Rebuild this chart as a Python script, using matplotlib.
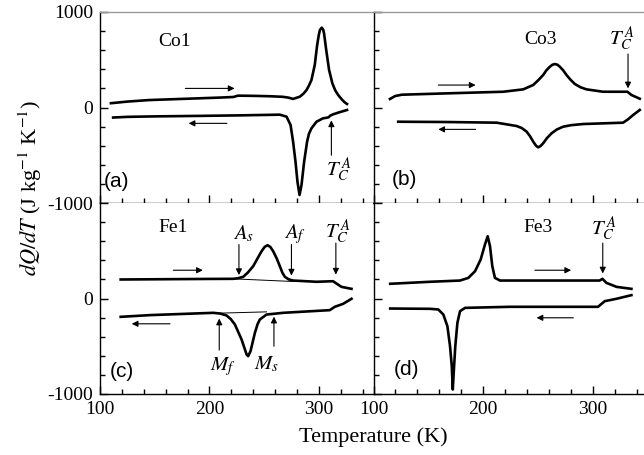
import numpy as np
import matplotlib
matplotlib.use("Agg")
import matplotlib.pyplot as plt
from matplotlib.ticker import MultipleLocator

plt.rcParams['font.family'] = ['Liberation Serif', 'DejaVu Serif']
plt.rcParams['mathtext.fontset'] = 'stix'
plt.rcParams['axes.unicode_minus'] = False

# ---- data (T in K, dQ/dT in J kg-1 K-1) ----
# (a) Co1
co1_heat_T = [110, 125, 145, 170, 190, 210, 222, 226, 240, 255, 267, 272, 276.5, 282.6, 286, 288.8,
              291, 293.3, 296.3, 298.5, 300, 301, 302.7, 304, 304.8, 307, 309.4, 312.4, 315,
              317.7, 321, 323.7, 325.8]
co1_heat_Q = [45, 62, 78, 88, 96, 104, 110, 124, 122, 118, 112, 104, 90, 113, 145, 183,
              230, 288, 445, 654, 760, 811, 836, 815, 776, 584, 393, 253, 180,
              131, 85, 54, 37]
co1_cool_T = [112, 125, 150, 190, 230, 264.4, 270.5, 274.2, 276.5, 278.7, 280.5, 282.4, 284.2,
              286.6, 289.3, 291, 293.3, 297.9, 303.9, 307, 309, 310.5, 313, 317.7, 325.8]
co1_cool_Q = [-105, -98, -93, -88, -82, -75, -96, -183, -358, -567, -777, -916, -811,
              -567, -358, -275, -218, -149, -113, -108, -102, -85, -72, -54, -26]

# (b) Co3
co3_heat_T = [115, 119.7, 125.8, 166.7, 218.2, 236.4, 245.5, 250, 254.5, 257.5, 260.6, 263,
              265.2, 267.5, 269.7, 272.7, 275.8, 279.5, 283.4, 288.5, 294, 309, 331.3, 334.9, 342.5]
co3_heat_Q = [89, 120, 134, 148, 165, 190, 236, 285, 340, 390, 427, 448,
              455, 448, 427, 390, 340, 290, 246, 212, 190, 165, 165, 131, 92]
co3_cool_T = [122.5, 166.7, 212.2, 230.4, 235, 239.5, 242.5, 245.5, 248, 250, 252, 254.5, 258,
              262.2, 267, 272.7, 280, 290.9, 327.3, 331.8, 336.4, 342.5]
co3_cool_Q = [-149, -152, -159, -194, -215, -253, -300, -358, -400, -417, -405, -375, -320,
              -270, -230, -201, -185, -173, -159, -124, -79, -26]

# (c) Fe1
fe1_heat_T = [118.9, 160, 200, 221.7, 226, 230.9, 235, 240, 244, 247.7, 250.5, 253.1, 255.7,
              258.3, 261.5, 264.4, 266.7, 269, 272.5, 276.6, 297.9, 313, 316.1, 320.7, 329.9]
fe1_heat_Q = [199, 202, 205, 206, 212, 227, 270, 338, 420, 495, 540, 558, 540,
              495, 420, 338, 270, 227, 200, 188, 175, 181, 157, 122, 101]
fe1_cool_T = [118.9, 145.7, 203.5, 210, 215.7, 219.5, 223.3, 229.4, 234, 235.4, 237.6, 241.6,
              244, 246.1, 252.2, 267.4, 310, 314.6, 322.2, 329.9]
fe1_cool_Q = [-192, -174, -150, -158, -178, -215, -272, -429, -586, -604, -551, -359,
              -270, -220, -168, -150, -122, -87, -56, -3]
fe1_heat_base_T = [221.7, 276.6]
fe1_heat_base_Q = [206, 178]
fe1_cool_base_T = [203.5, 252.2]
fe1_cool_base_Q = [-155, -140]

# (d) Fe3
fe3_heat_T = [115.2, 151.5, 178.8, 186.4, 192.5, 197.6, 201.5, 204, 206.1, 208.2, 210.6,
              215.2, 242.5, 306, 308.5, 312.1, 321.3, 334.9]
fe3_heat_Q = [154, 175, 188, 216, 286, 408, 565, 652, 548, 338, 216,
              188, 188, 188, 206, 164, 122, 101]
fe3_cool_T = [115.2, 151.5, 159, 163.6, 167.3, 169.7, 171.3, 172.2, 173.4, 174.5, 176.4,
              178.8, 183.4, 224, 304.5, 310.6, 321.3, 334.9]
fe3_cool_Q = [-105, -108, -115, -168, -290, -499, -709, -953, -709, -499, -255,
              -133, -98, -87, -87, -28, -3, 35]

W, H = 644, 455
fig = plt.figure(figsize=(W / 100, H / 100), dpi=100)


def px_box(x0, y0, x1, y1):
    return [x0 / W, 1 - y1 / H, (x1 - x0) / W, (y1 - y0) / H]


ax_a = fig.add_axes(px_box(100, 12, 373.5, 203))
ax_b = fig.add_axes(px_box(373.5, 12, 648, 203))
ax_c = fig.add_axes(px_box(100, 203, 373.5, 394))
ax_d = fig.add_axes(px_box(373.5, 203, 648, 394))

curves = {
    ax_a: [(co1_heat_T, co1_heat_Q), (co1_cool_T, co1_cool_Q)],
    ax_b: [(co3_heat_T, co3_heat_Q), (co3_cool_T, co3_cool_Q)],
    ax_c: [(fe1_heat_T, fe1_heat_Q), (fe1_cool_T, fe1_cool_Q)],
    ax_d: [(fe3_heat_T, fe3_heat_Q), (fe3_cool_T, fe3_cool_Q)],
}

for ax, cc in curves.items():
    for t, q in cc:
        ax.plot(t, q, color='black', lw=1.9, solid_joinstyle='round')
    ax.set_xlim(100, 350)
    ax.set_ylim(-1000, 1000)
    ax.xaxis.set_major_locator(MultipleLocator(100))
    ax.xaxis.set_minor_locator(MultipleLocator(20))
    ax.yaxis.set_major_locator(MultipleLocator(1000))
    ax.yaxis.set_minor_locator(MultipleLocator(200))
    ax.tick_params(which='both', direction='in', top=False, right=False,
                   labelsize=14, width=1.0)
    ax.tick_params(which='major', length=6, pad=5)
    ax.tick_params(which='minor', length=3.5)
    for s in ax.spines.values():
        s.set_linewidth(1.0)
    ax.spines['right'].set_visible(False)

ax_c.plot(fe1_heat_base_T, fe1_heat_base_Q, color='black', lw=0.7)
ax_c.plot(fe1_cool_base_T, fe1_cool_base_Q, color='black', lw=0.7)

for ax in (ax_a, ax_b):
    ax.spines['top'].set_color('#9a9a9a')
    ax.tick_params(labelbottom=False)
for ax in (ax_c, ax_d):
    ax.spines['top'].set_visible(False)
for ax in (ax_b, ax_d):
    ax.tick_params(labelleft=False)

ax_a.set_yticks([-1000, 0, 1000])
ax_a.set_yticklabels(['-1000', '0', '1000'])
ax_c.set_yticks([-1000, 0, 1000])
ax_c.set_yticklabels(['-1000', '0', ''])
for ax in (ax_c, ax_d):
    ax.set_xticks([100, 200, 300])
    ax.set_xticklabels(['100', '200', '300'])

arr = dict(arrowstyle='-|>', color='black', lw=0.8, mutation_scale=9,
           shrinkA=0, shrinkB=0)


def arrow(ax, x0, y0, x1, y1):
    ax.annotate('', xy=(x1, y1), xytext=(x0, y0), arrowprops=arr)


tc = r'$T_C^{\,A}$'

# (a)
arrow(ax_a, 178, 200, 223, 200)
arrow(ax_a, 216, -166, 181, -166)
arrow(ax_a, 311.5, -500, 311.5, -135)
ax_a.text(153, 686, 'Co1', fontsize=14, va='center')
ax_a.text(318, -650, tc, fontsize=15, ha='center', va='center')
ax_a.text(103, -780, '(a)', fontsize=15, va='center', family='Liberation Sans')

# (b)
arrow(ax_b, 159, 235, 193, 235)
arrow(ax_b, 193, -229, 159, -229)
arrow(ax_b, 331.8, 560, 331.8, 200)
ax_b.text(252, 707, 'Co3', fontsize=14, ha='center', va='center')
ax_b.text(326, 720, tc, fontsize=15, ha='center', va='center')
ax_b.text(117, -759, '(b)', fontsize=15, va='center', family='Liberation Sans')

# (c)
arrow(ax_c, 167, 296, 194, 296)
arrow(ax_c, 164, -265, 129, -265)
arrow(ax_c, 227, 565, 227, 245)
arrow(ax_c, 275, 565, 275, 240)
arrow(ax_c, 315.6, 580, 315.6, 250)
arrow(ax_c, 209, -540, 209, -210)
arrow(ax_c, 259, -500, 259, -190)
ax_c.text(153, 740, 'Fe1', fontsize=14, va='center')
ax_c.text(231, 675, r'$A_s$', fontsize=15, ha='center', va='center')
ax_c.text(278, 670, r'$A_f$', fontsize=15, ha='center', va='center')
ax_c.text(317, 705, tc, fontsize=15, ha='center', va='center')
ax_c.text(212, -712, r'$M_f$', fontsize=15, ha='center', va='center')
ax_c.text(252, -690, r'$M_s$', fontsize=15, ha='center', va='center')
ax_c.text(109, -761, '(c)', fontsize=15, va='center', family='Liberation Sans')

# (d)
arrow(ax_d, 247, 296, 280, 296)
arrow(ax_d, 282, -202, 248.5, -202)
arrow(ax_d, 308.8, 580, 308.8, 262)
ax_d.text(250, 740, 'Fe3', fontsize=14, ha='center', va='center')
ax_d.text(310, 733, tc, fontsize=15, ha='center', va='center')
ax_d.text(118, -743, '(d)', fontsize=15, va='center', family='Liberation Sans')

fig.text(373 / W, 1 - 437 / H, 'Temperature (K)', fontsize=16, ha='center', va='center')
fig.text(30 / W, 1 - 188 / H, r'$dQ/dT$ (J kg$^{-1}$ K$^{-1}$)', fontsize=16,
         rotation=90, ha='center', va='center')

fig.savefig('out.png', dpi=100)
